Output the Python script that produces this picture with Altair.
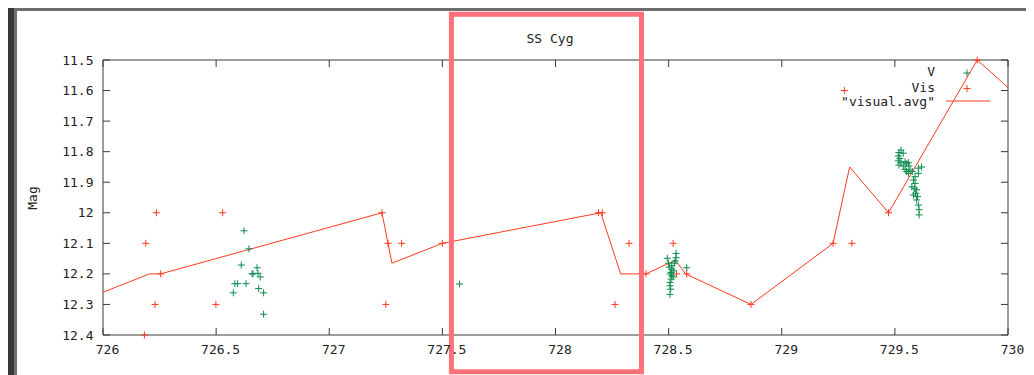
import altair as alt
import pandas as pd

# ---------------- data ----------------
vis_jd = [726.183, 726.189, 726.230, 726.236, 726.255, 726.499, 726.529,
          727.233, 727.250, 727.260, 727.320, 727.500, 728.190, 728.207,
          728.263, 728.325, 728.400, 728.520, 728.535, 728.580, 728.864,
          729.227, 729.277, 729.310, 729.472, 729.864]
vis_mag = [12.40, 12.10, 12.30, 12.00, 12.20, 12.30, 12.00,
           12.00, 12.30, 12.10, 12.10, 12.10, 12.00, 12.00,
           12.30, 12.10, 12.20, 12.10, 12.20, 12.20, 12.30,
           12.10, 11.60, 12.10, 12.00, 11.50]

v_jd = [726.623, 726.645, 726.611, 726.681, 726.659, 726.663, 726.685, 726.695,
        726.583, 726.595, 726.632, 726.576, 726.688, 726.710, 726.710,
        727.576,
        728.533, 728.533, 728.494, 728.529, 728.499, 728.514, 728.503, 728.514,
        728.522, 728.511, 728.507, 728.514, 728.511, 728.506, 728.506, 728.509,
        728.506, 728.580, 728.525, 728.520,
        729.518, 729.515, 729.522, 729.515, 729.527, 729.518, 729.537, 729.545,
        729.552, 729.560, 729.562, 729.545, 729.552, 729.560, 729.567, 729.577,
        729.604, 729.604, 729.589, 729.582, 729.589, 729.586, 729.596, 729.592,
        729.600, 729.596, 729.604, 729.607, 729.582, 729.575, 729.537, 729.527,
        729.618, 729.607]
v_mag = [12.059, 12.118, 12.171, 12.180, 12.200, 12.200, 12.198, 12.210,
         12.232, 12.232, 12.232, 12.262, 12.248, 12.262, 12.332,
         12.233,
         12.133, 12.147, 12.149, 12.158, 12.165, 12.173, 12.178, 12.184,
         12.190, 12.195, 12.200, 12.206, 12.217, 12.228, 12.239, 12.250,
         12.267, 12.180, 12.165, 12.210,
         11.803, 11.814, 11.822, 11.830, 11.836, 11.844, 11.847, 11.833,
         11.840, 11.836, 11.847, 11.858, 11.865, 11.871, 11.860, 11.865,
         11.854, 11.871, 11.882, 11.893, 11.904, 11.920, 11.925, 11.936,
         11.947, 11.958, 11.975, 11.990, 11.942, 11.915, 11.805, 11.795,
         11.850, 12.007]

avg_jd = [726.000, 726.206, 726.255, 727.233, 727.277, 727.500, 728.200,
          728.288, 728.400, 728.530, 728.575, 728.864, 729.227, 729.300,
          729.472, 729.864, 730.000]
avg_mag = [12.26, 12.20, 12.20, 12.00, 12.165, 12.10, 12.00,
           12.20, 12.20, 12.155, 12.20, 12.30, 12.10, 11.85,
           12.00, 11.50, 11.59]

x_ticks = [726, 726.5, 727, 727.5, 728, 728.5, 729, 729.5, 730]
y_ticks = [11.5, 11.6, 11.7, 11.8, 11.9, 12.0, 12.1, 12.2, 12.3, 12.4]
legend_labels = ["V", "Vis", '"visual.avg"']
chart_title = "SS Cyg"
x_title = "JD"
y_title = "Mag"
highlight_jd = [727.54, 728.38]
highlight_mag = [11.35, 12.52]

# ---------------- styling ----------------
RED = "#ff3a1e"
GREEN = "#0a8a4c"
INK = "#222222"
BORDER = "#3a3a3a"
FONT = "DejaVu Sans Mono"
FS = 13
PLUS = "M-1,0L1,0M0,-1L0,1"
W, H = 905, 275

xs = alt.Scale(domain=[726, 730], nice=False, zero=False)
ys = alt.Scale(domain=[11.5, 12.4], reverse=True, nice=False, zero=False)

xa = alt.Axis(values=x_ticks, format="~f", title=x_title, ticks=False, domain=False,
              grid=False, labelFont=FONT, labelFontSize=FS, labelColor=INK,
              labelPadding=8, labelOffset=4, labelFlush=False, labelOverlap=False,
              titleFont=FONT, titleFontSize=FS, titleFontWeight="normal", titleColor=INK,
              titleX=454, titleY=310, titleBaseline="middle", titleAlign="center",
              zindex=1)
ya = alt.Axis(values=y_ticks, format="~f", title=y_title, ticks=False, domain=False,
              grid=False, labelFont=FONT, labelFontSize=FS, labelColor=INK,
              labelPadding=10, labelFlush=False, labelOverlap=False,
              titleFont=FONT, titleFontSize=FS, titleFontWeight="normal", titleColor=INK,
              titleX=-70.5, titleY=137.5, titleBaseline="middle", titleAlign="center",
              titleAngle=270, zindex=1)

one = pd.DataFrame({"k": [0]})
vis_df = pd.DataFrame({"jd": vis_jd, "mag": vis_mag})
v_df = pd.DataFrame({"jd": v_jd, "mag": v_mag})
avg_df = pd.DataFrame({"jd": avg_jd, "mag": avg_mag, "i": list(range(len(avg_jd)))})
xt_df = pd.DataFrame({"t": x_ticks})
yt_df = pd.DataFrame({"t": y_ticks})
hl_df = pd.DataFrame({"x": [highlight_jd[0]], "x2": [highlight_jd[1]],
                      "y": [highlight_mag[0]], "y2": [highlight_mag[1]]})

X = alt.X("jd:Q", scale=xs, axis=xa)
Y = alt.Y("mag:Q", scale=ys, axis=ya)

# white page panel over the dark screenshot frame
panel = alt.Chart(one).mark_rect(fill="white", stroke="#6e6e6e", strokeWidth=3).encode(
    x=alt.value(-87.5), x2=alt.value(928), y=alt.value(-50.5), y2=alt.value(340))

# plot border
box = alt.Chart(one).mark_rect(fillOpacity=0, stroke=BORDER, strokeWidth=1).encode(
    x=alt.value(0), x2=alt.value(W), y=alt.value(0), y2=alt.value(H))

# inward ticks on all four sides
tick_len = 7
xt_bottom = alt.Chart(xt_df).mark_rule(color=BORDER).encode(
    x=alt.X("t:Q", scale=xs, axis=xa), y=alt.value(H), y2=alt.value(H - tick_len))
xt_top = alt.Chart(xt_df).mark_rule(color=BORDER).encode(
    x=alt.X("t:Q", scale=xs, axis=xa), y=alt.value(0), y2=alt.value(tick_len))
yt_left = alt.Chart(yt_df).mark_rule(color=BORDER).encode(
    y=alt.Y("t:Q", scale=ys, axis=ya), x=alt.value(0), x2=alt.value(tick_len))
yt_right = alt.Chart(yt_df).mark_rule(color=BORDER).encode(
    y=alt.Y("t:Q", scale=ys, axis=ya), x=alt.value(W), x2=alt.value(W - tick_len))

avg_line = alt.Chart(avg_df).mark_line(color=RED, strokeWidth=1).encode(
    x=X, y=Y, order="i:Q")
vis_pts = alt.Chart(vis_df).mark_point(shape=PLUS, size=49, filled=False, strokeWidth=1,
                                       opacity=1, color=RED).encode(x=X, y=Y)
v_pts = alt.Chart(v_df).mark_point(shape=PLUS, size=49, filled=False, strokeWidth=1,
                                   opacity=1, color=GREEN).encode(x=X, y=Y)

# gnuplot-style key (label left of sample)
key_x = 832
key_rows = [12, 28, 41.5]
key_text = [
    alt.Chart(one).mark_text(text=lab, align="right", baseline="middle", font=FONT,
                             fontSize=FS, color=INK).encode(
        x=alt.value(key_x), y=alt.value(yy))
    for lab, yy in zip(legend_labels, key_rows)
]
key_v = alt.Chart(one).mark_point(shape=PLUS, size=49, filled=False, strokeWidth=1,
                                  opacity=1, color=GREEN).encode(
    x=alt.value(864), y=alt.value(13))
key_vis = alt.Chart(one).mark_point(shape=PLUS, size=49, filled=False, strokeWidth=1,
                                    opacity=1, color=RED).encode(
    x=alt.value(864), y=alt.value(28.5))
key_line = alt.Chart(one).mark_rule(color=RED, strokeWidth=1).encode(
    x=alt.value(843), x2=alt.value(887), y=alt.value(41))

title = alt.Chart(one).mark_text(text=chart_title, align="center", baseline="alphabetic",
                                 font=FONT, fontSize=FS, color=INK).encode(
    x=alt.value(447), y=alt.value(-17))

highlight = alt.Chart(hl_df).mark_rect(fillOpacity=0, stroke="#ff7079", strokeWidth=5).encode(
    x=alt.X("x:Q", scale=xs, axis=xa), x2="x2:Q",
    y=alt.Y("y:Q", scale=ys, axis=ya), y2="y2:Q")

chart = alt.layer(
    panel, box, xt_bottom, xt_top, yt_left, yt_right,
    avg_line, vis_pts, v_pts,
    *key_text, key_v, key_vis, key_line,
    title, highlight
).properties(
    width=W, height=H, autosize="none",
    padding={"left": 95, "top": 52, "right": 18, "bottom": 48},
    background="#383838",
).configure_view(stroke="transparent")

chart.save("out.html", embed_options={"renderer": "svg", "actions": False})
